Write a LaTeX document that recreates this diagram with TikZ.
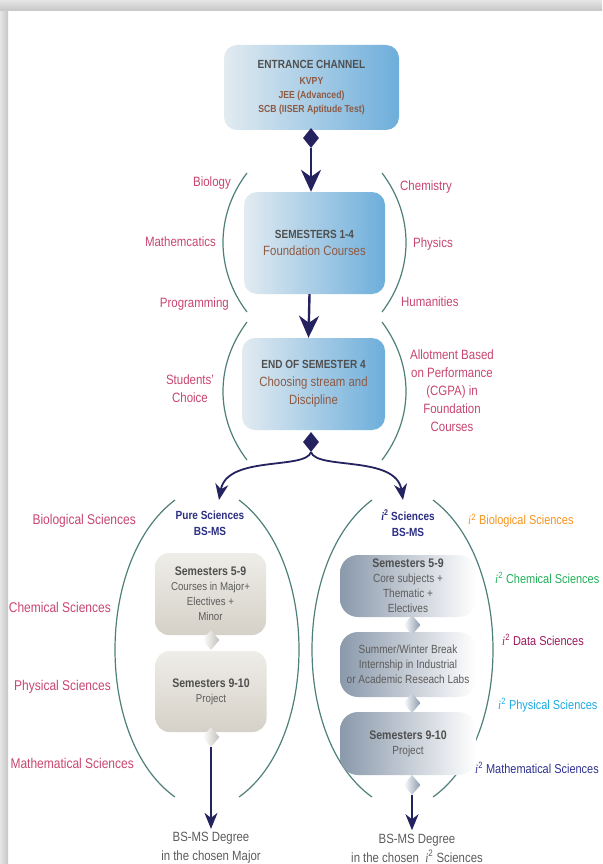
\documentclass[tikz,border=0pt]{standalone}
\usepackage{fontspec}
\setmainfont{Liberation Sans}[FakeStretch=0.85]
\newfontfamily\serifit{Liberation Serif}[FakeStretch=0.85]
\usetikzlibrary{arrows.meta,shapes.geometric}

\definecolor{navy}{HTML}{24235F}
\definecolor{rose}{HTML}{C8466F}
\definecolor{arcline}{HTML}{4E8079}
\definecolor{headgray}{HTML}{4F4F4F}
\definecolor{txtgray}{HTML}{5C5C5C}
\definecolor{brownish}{HTML}{8E5A44}
\definecolor{skylight}{HTML}{E2EBF1}
\definecolor{skydark}{HTML}{6DAEDB}
\definecolor{sandlight}{HTML}{EFEDE8}
\definecolor{sanddark}{HTML}{D5D1C8}
\definecolor{steel}{HTML}{8A99AB}
\definecolor{steelmid}{HTML}{C6CED7}
\definecolor{titlenavy}{HTML}{2C2F83}
\definecolor{iorange}{HTML}{F7941D}
\definecolor{igreen}{HTML}{22B05B}
\definecolor{iplum}{HTML}{A0195C}
\definecolor{icyan}{HTML}{1DAAE2}
\definecolor{inavy}{HTML}{2E3192}

\newcommand{\isq}{{\serifit\itshape i}\textsuperscript{2}}

\begin{document}
\begin{tikzpicture}[x=1pt, y=-1pt,
  bluebox/.style={rounded corners=13pt, left color=skylight, right color=skydark, align=center, text=headgray, inner sep=0pt},
  sandbox/.style={rounded corners=14pt, top color=sandlight, bottom color=sanddark, align=center, text=txtgray, inner sep=0pt, minimum width=111pt},
  steelbox/.style={rounded corners=18pt, left color=steel, middle color=steelmid, right color=white, align=center, text=txtgray, inner sep=0pt, minimum width=136pt},
  bigdia/.style={diamond, fill=navy, inner sep=0pt, minimum width=16pt, minimum height=20pt},
  sanddia/.style={diamond, left color=white, right color=sanddark!80!gray, inner sep=0pt, minimum width=17pt, minimum height=20pt},
  steeldia/.style={diamond, left color=white, right color=steel, inner sep=0pt, minimum width=17pt, minimum height=20pt},
  arr/.style={draw=navy, line width=2.4pt, -{Stealth[length=22pt, width=20pt, inset=7pt]}},
  thinarr/.style={draw=navy, line width=1.8pt, -{Stealth[length=16pt, width=13pt, inset=5pt]}},
  bracket/.style={draw=arcline, line width=1.2pt},
  lab/.style={text=rose, font=\fontsize{13.5}{18}\selectfont, align=center, inner sep=0pt},
  ilab/.style={font=\fontsize{12.9}{15}\selectfont, inner sep=0pt, anchor=west},
  big/.style={text=rose, font=\fontsize{14.1}{16}\selectfont, inner sep=0pt, anchor=east},
  hd/.style={font=\fontsize{11.8}{16}\selectfont\bfseries}
]
\useasboundingbox (0,0) rectangle (602,864);
\fill[white] (0,0) rectangle (602,864);
\fill[left color=gray!20, right color=gray!45] (0,11) rectangle (8,864);
\fill[top color=gray!20, bottom color=gray!45] (0,0) rectangle (602,11);

\node[bluebox, minimum width=175pt, minimum height=85pt, font=\fontsize{10.2}{14}\selectfont\bfseries] (EC) at (311.5,87.5)
  {{\fontsize{11.8}{14}\selectfont ENTRANCE CHANNEL}\\[2pt]
   \textcolor{brownish}{KVPY}\\
   \textcolor{brownish}{JEE (Advanced)}\\
   \textcolor{brownish}{SCB (IISER Aptitude Test)}};
\node[bluebox, minimum width=141pt, minimum height=102pt, font=\fontsize{13.4}{17}\selectfont] (S14) at (314.5,243)
  {{\fontsize{11.8}{17}\selectfont\bfseries SEMESTERS 1-4}\\
   \textcolor{brownish}{Foundation Courses}};
\node[bluebox, minimum width=143pt, minimum height=92pt, font=\fontsize{13.4}{18}\selectfont] (ES4) at (313.5,384)
  {{\fontsize{11.8}{18}\selectfont\bfseries END OF SEMESTER 4}\\
   \textcolor{brownish}{Choosing stream and}\\
   \textcolor{brownish}{Discipline}};

\node[bigdia] (D1) at (311,138) {};
\node[bigdia] (D2) at (311,442) {};

\draw[arr] (D1) -- (D1 |- S14.north);
\draw[arr] ([xshift=-5pt]S14.south) -- ([xshift=-5pt]ES4.north);

\draw[bracket] (247,173) .. controls (215,215) and (215,270) .. (247,312);
\draw[bracket] (382,173) .. controls (414,215) and (414,270) .. (382,312);
\draw[bracket] (247,322) .. controls (215,365) and (215,418) .. (247,460);
\draw[bracket] (382,322) .. controls (414,365) and (414,418) .. (382,460);

\node[lab, anchor=east] (bio) at (231,183) {Biology};
\node[lab, anchor=east] (mat) at (216,242) {Mathemcatics};
\node[lab, anchor=east] (prg) at (229,304) {Programming};
\node[lab, anchor=west] (chm) at (400,187) {Chemistry};
\node[lab, anchor=west] (phy) at (413,244) {Physics};
\node[lab, anchor=west] (hum) at (401,302) {Humanities};
\node[lab] (stc) at (190,389) {Students'\\Choice};
\node[lab] (alt) at (452,391) {Allotment Based\\on Performance\\(CGPA) in\\Foundation\\Courses};

\coordinate (pin) at (219,500);
\coordinate (iin) at (403,500);
\draw[thinarr] (D2.south) .. controls (305,470) and (227,455) .. (pin);
\draw[thinarr] (D2.south) .. controls (317,470) and (396,455) .. (iin);

\draw[bracket] (175,500) .. controls (95,560) and (95,740) .. (175,797);
\draw[bracket] (239,500) .. controls (319,560) and (319,740) .. (239,797);
\draw[bracket] (372,500) .. controls (292,560) and (292,740) .. (372,797);
\draw[bracket] (433,500) .. controls (513,560) and (513,740) .. (433,797);

\node[hd, text=titlenavy, align=center] (PT) at (210,523) {Pure Sciences\\BS-MS};
\node[hd, text=titlenavy, align=center] (IT) at (408,523) {\isq{} Sciences\\BS-MS};

\node[sandbox, minimum height=82pt, font=\fontsize{11.4}{15}\selectfont] (LB1) at (210.5,594)
  {{\fontsize{12.4}{15}\selectfont\bfseries\color{headgray}Semesters 5-9}\\
   Courses in Major+\\ Electives +\\ Minor};
\node[sandbox, minimum height=81pt, font=\fontsize{11.4}{15}\selectfont] (LB2) at (211,691.5)
  {{\fontsize{12.4}{15}\selectfont\bfseries\color{headgray}Semesters 9-10}\\ Project};
\node[sanddia] (LD1) at (211,640) {};
\node[sanddia] (LD2) at (211,737) {};

\node[steelbox, minimum height=62pt, font=\fontsize{11.8}{15}\selectfont] (RB1) at (408,586)
  {{\fontsize{12.4}{15}\selectfont\bfseries\color{headgray}Semesters 5-9}\\
   Core subjects +\\ Thematic +\\ Electives};
\node[steelbox, minimum height=65pt, font=\fontsize{11.8}{15}\selectfont] (RB2) at (408,664.5)
  {Summer/Winter Break\\ Internship in Industrial\\ or Academic Reseach Labs};
\node[steelbox, minimum height=63pt, font=\fontsize{11.8}{15}\selectfont] (RB3) at (408,743.5)
  {{\fontsize{12.4}{15}\selectfont\bfseries\color{headgray}Semesters 9-10}\\ Project};
\node[steeldia] (RD1) at (412,625) {};
\node[steeldia] (RD2) at (412,703) {};
\node[steeldia] (RD3) at (412,785) {};

\node[text=txtgray, align=center, font=\fontsize{13.4}{19}\selectfont] (LDeg) at (211,848)
  {BS-MS Degree\\in the chosen Major};
\node[text=txtgray, align=center, font=\fontsize{13.4}{19}\selectfont] (RDeg) at (417,848)
  {BS-MS Degree\\in the chosen \ \isq{} Sciences};
\draw[thinarr] (LD2) -- (LDeg.north);
\draw[thinarr] (RD3) -- (RD3 |- RDeg.north);

\node[big] (bsc) at (136,521) {Biological Sciences};
\node[big] (csc) at (111,607) {Chemical Sciences};
\node[big] (psc) at (111,687) {Physical Sciences};
\node[big] (msc) at (134,763) {Mathematical Sciences};

\node[ilab, text=iorange] (ibs) at (468,521) {\isq{} Biological Sciences};
\node[ilab, text=igreen] (ics) at (495,578) {\isq{} Chemical Sciences};
\node[ilab, text=iplum] (ids) at (502,640) {\isq{} Data Sciences};
\node[ilab, text=icyan] (ips) at (498,705) {\isq{} Physical Sciences};
\node[ilab, text=inavy] (ims) at (475,768) {\isq{} Mathematical Sciences};
\end{tikzpicture}
\end{document}
